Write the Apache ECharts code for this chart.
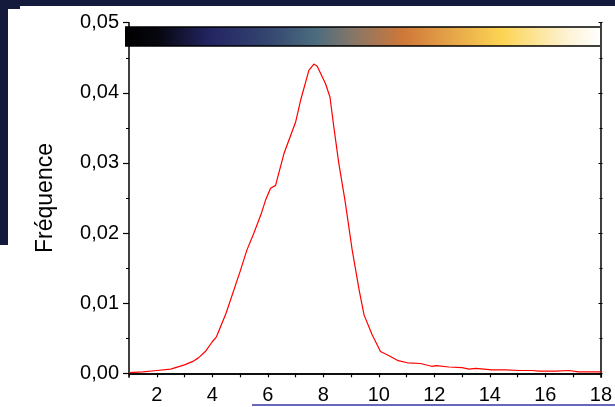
<!DOCTYPE html>
<html>
<head>
<meta charset="utf-8">
<script src="https://cdn.jsdelivr.net/npm/echarts@6/dist/echarts.min.js"></script>
<style>
  html, body { margin: 0; padding: 0; }
  #chart { width: 615px; height: 407px; }
</style>
</head>
<body>
<div id="chart"></div>
<script>
// valeurs
const xValues = [1, 1.5, 2, 2.5, 3, 3.3, 3.5, 3.75, 4, 4.15, 4.5, 5, 5.25, 5.5, 5.75, 5.92,
  6.1, 6.28, 6.58, 7.0, 7.18, 7.48, 7.66, 7.78, 8.08, 8.24, 8.38, 8.56, 8.78, 9.04, 9.29,
  9.47, 9.76, 10.06, 10.37, 10.7, 11.03, 11.5, 11.9, 12.07, 12.53, 13.0, 13.25, 13.49,
  14.08, 14.57, 15.05, 15.53, 15.77, 16.37, 16.85, 17.2, 18];
const yValues = [0.0001, 0.0002, 0.0004, 0.0006, 0.0012, 0.0017, 0.0022, 0.0031, 0.0045, 0.0052,
  0.0086, 0.0145, 0.0176, 0.0200, 0.0226, 0.0247, 0.0264, 0.0268, 0.0313, 0.0358, 0.0389,
  0.0432, 0.0441, 0.0438, 0.0413, 0.0394, 0.0351, 0.0299, 0.0247, 0.0176, 0.0119, 0.0083,
  0.0055, 0.0031, 0.0025, 0.0018, 0.0015, 0.0014, 0.0010, 0.0011, 0.0009, 0.0008, 0.0006,
  0.0007, 0.0005, 0.0005, 0.0004, 0.0004, 0.0003, 0.0003, 0.0004, 0.0002, 0.0002];
const yTicks = [0, 0.01, 0.02, 0.03, 0.04, 0.05];
const xTicks = [2, 4, 6, 8, 10, 12, 14, 16, 18];

const FONT = 'Liberation Sans';
const chart = echarts.init(document.getElementById('chart'));

const points = xValues.map((x, i) => [x, yValues[i]]);

const axisLine = { show: true, lineStyle: { color: '#000', width: 1.5 } };

const option = {
  backgroundColor: '#141a3c',
  animation: false,
  textStyle: { fontFamily: FONT },
  grid: [
    // cadre + courbe (l'axe x est un peu sous 0)
    { left: 129, right: 12.5, top: 22.7, bottom: 29.7 },
    // graduations de l'axe y
    { left: 129, right: 12.5, top: 22.7, bottom: 33.7 }
  ],
  xAxis: [
    {
      type: 'value', gridIndex: 0, position: 'bottom', min: 1, max: 18, interval: 1,
      axisLine,
      axisTick: { show: true, length: 4, lineStyle: { color: '#000', width: 1.2 } },
      axisLabel: {
        color: '#000', fontSize: 20, fontFamily: FONT, margin: 8, showMinLabel: false,
        formatter: v => (xTicks.includes(v) ? String(v) : '')
      },
      splitLine: { show: false }
    },
    {
      type: 'value', gridIndex: 0, position: 'top', min: 1, max: 18, interval: 1,
      axisLine,
      axisTick: { show: true, inside: true, length: 3, lineStyle: { color: '#000' } },
      axisLabel: { show: false },
      splitLine: { show: false }
    },
    { type: 'value', gridIndex: 1, min: 1, max: 18, show: false }
  ],
  yAxis: [
    {
      type: 'value', gridIndex: 0, position: 'left', min: -0.00057, max: 0.05,
      axisLine, axisTick: { show: false }, axisLabel: { show: false },
      splitLine: { show: false }
    },
    {
      type: 'value', gridIndex: 0, position: 'right', min: -0.00057, max: 0.05,
      axisLine, axisTick: { show: false }, axisLabel: { show: false },
      splitLine: { show: false }
    },
    {
      type: 'value', gridIndex: 1, position: 'left', min: 0, max: 0.05, interval: 0.01,
      name: 'Fréquence', nameLocation: 'middle', nameGap: 72, nameRotate: 90,
      nameTextStyle: { color: '#000', fontSize: 23, fontFamily: FONT },
      axisLine: { show: false },
      axisTick: { show: true, length: 6, lineStyle: { color: '#000', width: 1.2 } },
      minorTick: { show: true, splitNumber: 2, length: 3, lineStyle: { color: '#000' } },
      axisLabel: {
        color: '#000', fontSize: 20, fontFamily: FONT, margin: 10,
        formatter: v => v.toFixed(2).replace('.', ',')
      },
      splitLine: { show: false }
    },
    {
      type: 'value', gridIndex: 1, position: 'right', min: 0, max: 0.05, interval: 0.01,
      axisLine: { show: false },
      axisTick: { show: true, inside: true, length: 4, lineStyle: { color: '#000' } },
      minorTick: { show: true, splitNumber: 2, length: 3, lineStyle: { color: '#000' } },
      axisLabel: { show: false },
      splitLine: { show: false }
    }
  ],
  graphic: [
    // fond blanc de la diapositive
    { type: 'rect', z: -10, shape: { x: 20, y: 6, width: 600, height: 410 }, style: { fill: '#fff' } },
    { type: 'rect', z: -10, shape: { x: 8, y: 9, width: 20, height: 410 }, style: { fill: '#fff' } },
    { type: 'rect', z: -10, shape: { x: 0, y: 245, width: 20, height: 170 }, style: { fill: '#fff' } },
    // barre de couleurs
    {
      type: 'rect', z: 50,
      shape: { x: 125, y: 27, width: 475, height: 19 },
      style: {
        fill: new echarts.graphic.LinearGradient(0, 0, 1, 0, [
          { offset: 0, color: '#000000' },
          { offset: 0.07, color: '#07070f' },
          { offset: 0.18, color: '#232563' },
          { offset: 0.3, color: '#34456f' },
          { offset: 0.4, color: '#4a6c7e' },
          { offset: 0.48, color: '#867668' },
          { offset: 0.587, color: '#d07838' },
          { offset: 0.686, color: '#e5a449' },
          { offset: 0.793, color: '#fcd452' },
          { offset: 0.934, color: '#fdf3d6' },
          { offset: 1, color: '#ffffff' }
        ])
      }
    },
    { type: 'line', z: 51, shape: { x1: 125, y1: 27, x2: 600, y2: 27 }, style: { stroke: '#000', lineWidth: 1.5 } },
    { type: 'line', z: 51, shape: { x1: 125, y1: 46, x2: 600, y2: 46 }, style: { stroke: '#000', lineWidth: 1.5 } },
    // trait bleu en bas
    { type: 'line', z: 51, shape: { x1: 252, y1: 405, x2: 615, y2: 405 }, style: { stroke: '#3434a4', lineWidth: 1.5 } }
  ],
  series: [
    {
      type: 'line',
      xAxisIndex: 0,
      yAxisIndex: 0,
      data: points,
      showSymbol: false,
      smooth: false,
      lineStyle: { color: '#ff0000', width: 1.2 }
    }
  ]
};

chart.setOption(option);
</script>
</body>
</html>
